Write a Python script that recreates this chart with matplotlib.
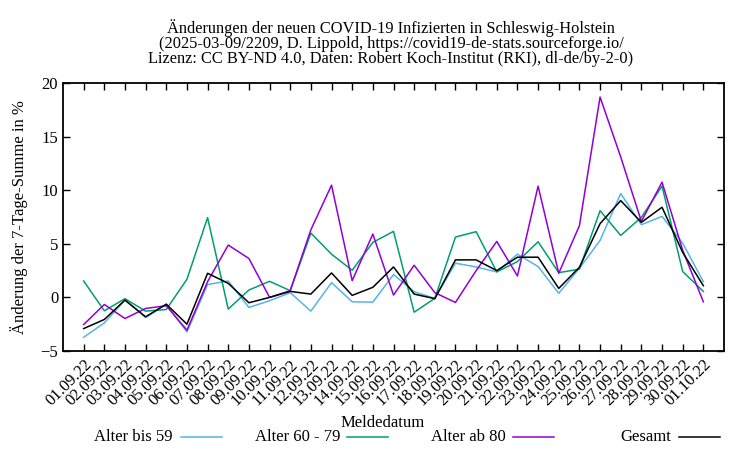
import matplotlib
matplotlib.use("Agg")
import matplotlib.pyplot as plt
from matplotlib.lines import Line2D

plt.rcParams['font.family'] = ['Liberation Serif', 'DejaVu Serif']

dates = ["01.09.22", "02.09.22", "03.09.22", "04.09.22", "05.09.22", "06.09.22",
         "07.09.22", "08.09.22", "09.09.22", "10.09.22", "11.09.22", "12.09.22",
         "13.09.22", "14.09.22", "15.09.22", "16.09.22", "17.09.22", "18.09.22",
         "19.09.22", "20.09.22", "21.09.22", "22.09.22", "23.09.22", "24.09.22",
         "25.09.22", "26.09.22", "27.09.22", "28.09.22", "29.09.22", "30.09.22",
         "01.10.22"]

bis59 = [-3.72, -2.38, -0.25, -1.88, -0.66, -3.22, 1.2, 1.53, -0.94, -0.31, 0.44,
         -1.28, 1.38, -0.41, -0.44, 2.13, 0.53, -0.09, 3.19, 2.84, 2.38, 4.03,
         2.88, 0.38, 2.72, 5.31, 9.69, 6.78, 7.56, 5.06, 1.47]
a60_79 = [1.53, -1.25, -0.12, -1.28, -1.13, 1.69, 7.44, -1.09, 0.69, 1.5, 0.63,
          6.0, 4.03, 2.53, 5.13, 6.16, -1.38, -0.09, 5.63, 6.13, 2.38, 3.34,
          5.19, 2.31, 2.63, 8.09, 5.78, 7.47, 10.38, 2.41, 0.56]
ab80 = [-2.53, -0.66, -1.97, -1.03, -0.78, -3.06, 1.47, 4.88, 3.63, 0.0, 0.63,
        6.31, 10.47, 1.56, 5.91, 0.22, 3.0, 0.44, -0.47, 2.5, 5.22, 2.0,
        10.38, 2.25, 6.69, 18.69, 13.1, 7.09, 10.75, 4.4, -0.41]
gesamt = [-2.91, -2.06, -0.25, -1.81, -0.63, -2.5, 2.25, 1.31, -0.5, 0.0, 0.56,
          0.31, 2.28, 0.19, 0.94, 2.84, 0.31, -0.12, 3.5, 3.5, 2.5, 3.75,
          3.75, 0.84, 2.81, 6.88, 9.03, 7.0, 8.41, 4.19, 1.09]

series = [("Alter bis 59", bis59, "#56b4e9"),
          ("Alter 60 - 79", a60_79, "#009e73"),
          ("Alter ab 80", ab80, "#9400d3"),
          ("Gesamt", gesamt, "#000000")]

fig = plt.figure(figsize=(7.5, 4.5), dpi=100)
ax = fig.add_axes([63/750, 1-351/450, (724-63)/750, (351-83)/450])

x = list(range(len(dates)))
for name, vals, col in series:
    ax.plot(x, vals, color=col, lw=1.1, label=name)

ax.set_xlim(-1, len(dates))
ax.set_ylim(-5, 20)
ax.set_yticks([-5, 0, 5, 10, 15, 20])
ax.set_xticks(x)
ax.set_xticklabels(dates, rotation=45, ha='right', rotation_mode='anchor', fontsize=12)
ax.tick_params(axis='both', direction='in', length=5, width=1, top=True, right=True,
               labelsize=12)
ax.tick_params(axis='x', labelsize=12, pad=4)
for s in ax.spines.values():
    s.set_linewidth(1.3)

ax.set_ylabel("Änderung der 7-Tage-Summe in %", fontsize=12, labelpad=9)
fig.text(383/750, 1-423/450, "Meldedatum", ha='center', va='center', fontsize=12)

fig.text(391/750, 1-43/450,
         "Änderungen der neuen COVID-19 Infizierten in Schleswig-Holstein\n"
         "(2025-03-09/2209, D. Lippold, https://covid19-de-stats.sourceforge.io/\n"
         "Lizenz: CC BY-ND 4.0, Daten: Robert Koch-Institut (RKI), dl-de/by-2-0)",
         ha='center', va='center', fontsize=11.8, linespacing=0.95)

# legend row
leg_text_right = [172, 340, 506, 671]
leg_line = [(181, 222), (347, 388), (513, 554), (679, 720)]
ly = 1 - 437/450
for (name, vals, col), tr, (l0, l1) in zip(series, leg_text_right, leg_line):
    fig.text(tr/750, ly, name, ha='right', va='center', fontsize=12)
    fig.add_artist(Line2D([l0/750, l1/750], [ly, ly], color=col, lw=1.1,
                          transform=fig.transFigure))

fig.savefig("out.png", dpi=100)
